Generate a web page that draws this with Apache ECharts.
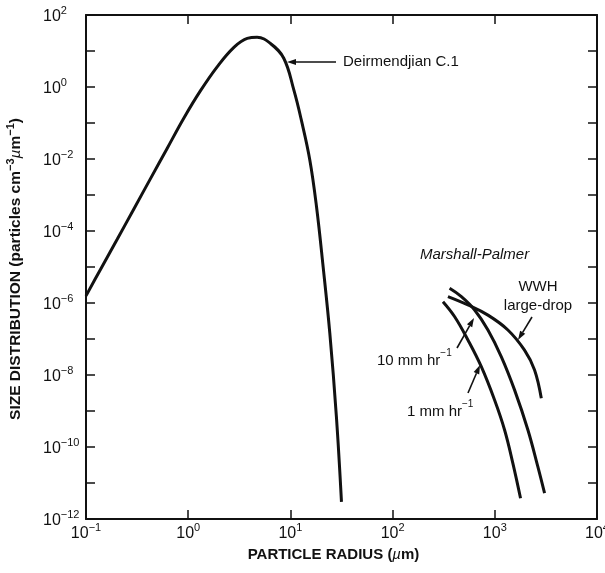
<!DOCTYPE html>
<html>
<head>
<meta charset="utf-8">
<script src="https://cdn.jsdelivr.net/npm/echarts@6/dist/echarts.min.js"></script>
<style>
  html, body { margin: 0; padding: 0; background: #fff; }
  #chart { width: 605px; height: 573px; }
</style>
</head>
<body>
<div id="chart"></div>
<script>
// particle radius (um) / size distribution (particles cm^-3 um^-1)
const deirRadius = [0.1, 0.139, 0.202, 0.294, 0.429, 0.624, 0.908, 1.32, 1.92, 2.8, 3.78, 4.72, 6.38, 8.61, 10.8, 12.8, 15.5, 18.0, 20.9, 24.3, 28.2, 31.6];
const deirValue = [1.58e-6, 8.7e-6, 5.9e-5, 4.1e-4, 2.9e-3, 0.020, 0.138, 0.79, 3.63, 12.6, 22.4, 24, 16.2, 6.3, 0.83, 0.12, 9.3e-3, 4.8e-4, 1.02e-5, 1.45e-7, 6.9e-10, 3.0e-12];

const mp10Radius = [361, 471, 635, 857, 1159, 1563, 2109, 2637, 3069];
const mp10Value = [2.56e-6, 1.5e-6, 6.4e-7, 1.78e-7, 3.2e-8, 3.8e-9, 2.97e-10, 2.84e-11, 5.2e-12];

const mp1Radius = [311, 405, 546, 738, 995, 1247, 1503, 1786];
const mp1Value = [1.09e-6, 4.16e-7, 9.4e-8, 1.7e-8, 2.02e-9, 2.97e-10, 3.52e-11, 3.76e-12];

const wwhRadius = [348, 546, 857, 1343, 1954, 2449, 2851];
const wwhValue = [1.5e-6, 8.8e-7, 4.6e-7, 1.78e-7, 4.9e-8, 1.38e-8, 2.25e-9];

// decades that carry a label
const xTickExp = [-1, 0, 1, 2, 3, 4];
const yTickExp = [-12, -10, -8, -6, -4, -2, 0, 2];

const FONT = "Liberation Sans";
const INK = "#111";

function pairs(xs, ys) {
  return xs.map((x, i) => [x, ys[i]]);
}
function expStr(n) {
  return n < 0 ? "\u2212" + (-n) : String(n);
}
function powLabel(list) {
  return function (v) {
    const e = Math.round(Math.log10(v));
    if (list.indexOf(e) < 0) return "";
    return "{b|10}{s|" + expStr(e) + "}";
  };
}
const powRich = {
  b: { fontFamily: FONT, fontSize: 16, color: INK, lineHeight: 20, verticalAlign: "bottom" },
  s: { fontFamily: FONT, fontSize: 11, color: INK, lineHeight: 11, verticalAlign: "top" },
};

const axisLine = { show: true, lineStyle: { color: INK, width: 2 } };
const axisTick = { show: true, inside: true, length: 9, lineStyle: { color: INK, width: 1.5 } };

function curve(name, xs, ys) {
  return {
    name: name,
    type: "line",
    data: pairs(xs, ys),
    smooth: 0.4,
    showSymbol: false,
    lineStyle: { color: INK, width: 3 },
    z: 3,
  };
}

function arrow(x1, y1, x2, y2) {
  // shaft from (x1,y1), head at (x2,y2)
  const dx = x2 - x1, dy = y2 - y1;
  const len = Math.sqrt(dx * dx + dy * dy);
  const ux = dx / len, uy = dy / len;
  const bx = x2 - 9 * ux, by = y2 - 9 * uy;
  return [
    { type: "line", shape: { x1: x1, y1: y1, x2: bx, y2: by }, style: { stroke: INK, lineWidth: 1.6 } },
    {
      type: "polygon",
      shape: { points: [[x2, y2], [bx - 3 * uy, by + 3 * ux], [bx + 3 * uy, by - 3 * ux]] },
      style: { fill: INK },
    },
  ];
}

function label(x, y, text, extra) {
  return {
    type: "text",
    x: x,
    y: y,
    style: Object.assign({
      text: text,
      fontFamily: FONT,
      fontSize: 15,
      fill: INK,
      align: "left",
      verticalAlign: "middle",
      rich: {
        s: { fontFamily: FONT, fontSize: 10, fill: INK, verticalAlign: "top", lineHeight: 10 },
        t: { fontFamily: FONT, fontSize: 15, fill: INK, verticalAlign: "bottom", lineHeight: 20 },
      },
    }, extra || {}),
  };
}

const chart = echarts.init(document.getElementById("chart"));
chart.setOption({
  backgroundColor: "#fff",
  animation: false,
  grid: { left: 86, right: 8, top: 15, bottom: 54, containLabel: false, outerBoundsMode: "none" },
  xAxis: [
    {
      type: "log",
      logBase: 10,
      min: 0.1,
      max: 10000,
      interval: 1,
      position: "bottom",
      axisLine: axisLine,
      axisTick: axisTick,
      splitLine: { show: false },
      axisLabel: { margin: 3, formatter: powLabel(xTickExp), rich: powRich, showMinLabel: true, showMaxLabel: true },
      name: "{t|PARTICLE RADIUS (}{i|\u00b5}{t|m)}",
      nameLocation: "middle",
      nameGap: 26,
      nameTextStyle: {
        padding: [0, 16, 0, 0],
        rich: {
          t: { fontFamily: FONT, fontSize: 15, fontWeight: "bold", color: INK },
          i: { fontFamily: FONT, fontSize: 15, fontStyle: "italic", color: INK },
        },
      },
    },
    {
      type: "log",
      logBase: 10,
      min: 0.1,
      max: 10000,
      interval: 1,
      position: "top",
      axisLine: axisLine,
      axisTick: axisTick,
      splitLine: { show: false },
      axisLabel: { show: false },
    },
  ],
  yAxis: [
    {
      type: "log",
      logBase: 10,
      min: 1e-12,
      max: 100,
      interval: 1,
      splitNumber: 14,
      position: "left",
      axisLine: axisLine,
      axisTick: axisTick,
      splitLine: { show: false },
      axisLabel: { margin: 43, align: "left", formatter: powLabel(yTickExp), rich: powRich, showMinLabel: true, showMaxLabel: true },
      name: "{t|SIZE DISTRIBUTION (particles cm}{s|\u22123}{i|\u00b5}{t|m}{s|\u22121}{t|)}",
      nameLocation: "middle",
      nameRotate: 90,
      nameGap: 62,
      nameTextStyle: {
        padding: [0, 4, 0, 0],
        rich: {
          t: { fontFamily: FONT, fontSize: 15.5, fontWeight: "bold", color: INK, lineHeight: 19, verticalAlign: "bottom" },
          i: { fontFamily: FONT, fontSize: 15.5, fontStyle: "italic", color: INK, lineHeight: 19, verticalAlign: "bottom" },
          s: { fontFamily: FONT, fontSize: 11, fontWeight: "bold", color: INK, lineHeight: 11, verticalAlign: "top" },
        },
      },
    },
    {
      type: "log",
      logBase: 10,
      min: 1e-12,
      max: 100,
      interval: 1,
      splitNumber: 14,
      position: "right",
      axisLine: axisLine,
      axisTick: axisTick,
      splitLine: { show: false },
      axisLabel: { show: false },
    },
  ],
  series: [
    curve("Deirmendjian C.1", deirRadius, deirValue),
    curve("Marshall-Palmer 10 mm hr-1", mp10Radius, mp10Value),
    curve("Marshall-Palmer 1 mm hr-1", mp1Radius, mp1Value),
    curve("WWH large-drop", wwhRadius, wwhValue),
  ],
  graphic: [
    label(343, 62, "Deirmendjian C.1"),
    label(420, 255, "Marshall-Palmer", { fontStyle: "italic" }),
    label(538, 287, "WWH", { align: "center" }),
    label(538, 306, "large-drop", { align: "center" }),
    label(377, 358, "{t|10 mm hr}{s|\u22121}"),
    label(407, 409, "{t|1 mm hr}{s|\u22121}"),
  ]
    .concat(arrow(336, 62, 287, 62))
    .concat(arrow(457, 348, 474, 318))
    .concat(arrow(468, 393, 480, 365))
    .concat(arrow(532, 317, 518, 340)),
});
</script>
</body>
</html>
